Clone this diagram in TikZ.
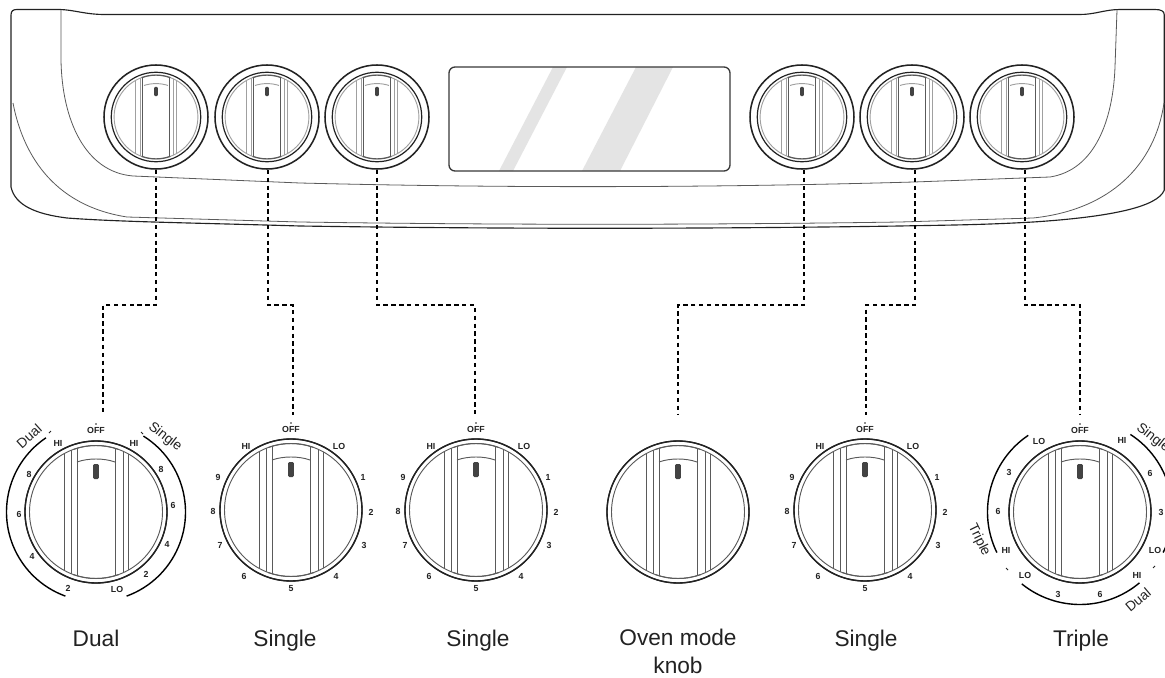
\documentclass[tikz,border=0pt]{standalone}
\usepackage{fontspec}
\setmainfont{Liberation Sans}
\definecolor{ink}{HTML}{222222}
\definecolor{rim}{HTML}{5A5A5A}
\definecolor{pale}{HTML}{A0A0A0}
\definecolor{glass}{HTML}{E4E4E4}
\tikzset{
  panelline/.style={draw=ink,line width=.85pt,line join=round},
  panelthin/.style={draw=rim,line width=.6pt},
  conn/.style={draw=black,line width=.95pt,dash pattern=on 3.3pt off 2.6pt},
  topknob/.style={circle,draw=ink,line width=1.15pt,minimum size=78pt,inner sep=0pt},
  bigknob/.style={circle,draw=ink,line width=1.05pt,minimum size=106.5pt,inner sep=0pt},
  dialmark/.style={font=\bfseries\fontsize{6.6}{7}\selectfont,text=ink,inner sep=0pt},
  arcline/.style={draw=black,line width=1.05pt},
  arcword/.style={font=\fontsize{10.3}{12}\selectfont,text=ink,inner sep=0pt},
  capword/.style={font=\fontsize{17}{21}\selectfont,text=ink,inner sep=0pt,anchor=base},
  bigline/.style={draw=rim,line width=.75pt},
  bigpale/.style={draw=rim,line width=.7pt},
  smalldark/.style={draw=rim,line width=.9pt},
  smallpale/.style={draw=pale,line width=.7pt},
}
% knob body: #1 x, #2 y, #3 scale, #4 style of inner grip lines, #5 style of outer grip lines and ring, #6 inner grip offset
\newcommand{\knobbody}[6]{%
  \begin{scope}[shift={(#1,#2)},scale=#3]
    \draw[ink,line width=.9pt] (0,0) circle[radius=71];
    \draw[#5] (0,0) circle[radius=66.5];
    \begin{scope}
      \clip (0,0) circle[radius=66.5];
      \draw[#4] (-#6,-70) -- (-#6,70);
      \draw[#4] (#6,-70) -- (#6,70);
      \draw[#5] (-25,-70) -- (-25,70);
      \draw[#5] (27,-70) -- (27,70);
      \draw[#5] (-32,-70) -- (-32,70);
      \draw[#5] (32,-70) -- (32,70);
    \end{scope}
    \draw[#5] (-19,-50) .. controls (-8,-54) and (8,-54) .. (19,-50);
    \draw[#4] (-110:66.5) arc[start angle=-110,end angle=-70,radius=66.5];
    \draw[#4] (110:66.5) arc[start angle=110,end angle=70,radius=66.5];
    \fill[ink!85,rounded corners=.8pt] (-2.8,-48) rectangle (2.8,-33);
  \end{scope}}
\newcommand{\mk}[2]{\node[dialmark] at (#1) {#2};}
\begin{document}
\begin{tikzpicture}[x=.75pt,y=-.75pt]
\useasboundingbox (0,0) rectangle (1165,678);
\clip (0,0) rectangle (1165,678);
\fill[white] (0,0) rectangle (1165,678);

% panel
\draw[panelline] (11,187) -- (11,15) .. controls (11,11) and (13,9.5) .. (17,9.5) -- (60,9.5)
  .. controls (75,10) and (85,14.5) .. (105,14.5) -- (1080,14.5)
  .. controls (1095,14.5) and (1105,9.5) .. (1120,9.5) -- (1155,9.5)
  .. controls (1161,9.5) and (1164.3,11) .. (1164.3,15) -- (1164.3,190)
  .. controls (1158,207) and (1110,217) .. (1033,222)
  .. controls (980,225) and (950,225) .. (900,226)
  .. controls (700,229) and (500,229) .. (300,226)
  .. controls (200,223) and (120,222) .. (67,218)
  .. controls (35,214) and (15,205) .. (11,187) -- cycle;
\draw[panelthin] (13,103) .. controls (22,150) and (50,205) .. (127,217)
  -- (300,222) .. controls (500,225) and (700,225) .. (900,222)
  -- (1033,218) .. controls (1110,210) and (1155,165) .. (1164,103);
\draw[panelthin] (61,10) -- (61,60) .. controls (62,120) and (85,172) .. (133,176)
  -- (300,183) .. controls (500,188) and (700,188) .. (914,182)
  -- (1050,177) .. controls (1095,170) and (1113,120) .. (1115,67) -- (1117,10);

% display
\begin{scope}
  \clip[rounded corners=4.5pt] (449,67) rectangle (730,171);
  \fill[glass] (553,67) -- (567,67) -- (513,171) -- (499,171) -- cycle;
  \fill[glass] (636,67) -- (673,67) -- (620,171) -- (582,171) -- cycle;
\end{scope}
\draw[draw=ink!90,line width=1pt,rounded corners=4.5pt] (449,67) rectangle (730,171);

% panel knobs
\node[topknob] (t1) at (156,117) {};
\node[topknob] (t2) at (267,117) {};
\node[topknob] (t3) at (377,117) {};
\node[topknob] (t4) at (802,117) {};
\node[topknob] (t5) at (912,117) {};
\node[topknob] (t6) at (1022,117) {};
\foreach \x in {156,267,377,802,912,1022}
  \knobbody{\x}{117}{.63}{smalldark}{smallpale}{22};

% large knobs
\node[bigknob] (b1) at (96,512) {};
\node[bigknob] (b2) at (291,510) {};
\node[bigknob] (b3) at (476,510) {};
\node[bigknob] (b4) at (678,512) {};
\node[bigknob] (b5) at (865,510) {};
\node[bigknob] (b6) at (1080,512) {};
\knobbody{96}{512}{1}{bigline}{bigpale}{19}
\knobbody{291}{510}{1}{bigline}{bigpale}{19}
\knobbody{476}{510}{1}{bigline}{bigpale}{19}
\knobbody{678}{512}{1}{bigline}{bigpale}{19}
\knobbody{865}{510}{1}{bigline}{bigpale}{19}
\knobbody{1080}{512}{1}{bigline}{bigpale}{19}

% connectors
\coordinate (d1) at (103,415);
\coordinate (d2) at (293,415);
\coordinate (d3) at (475,415);
\coordinate (d4) at (678,414);
\coordinate (d5) at (866,415);
\coordinate (d6) at (1080,415);
\draw[conn] (t1.south) -- (t1.south |- 0,305) -| (d1);
\draw[conn] ([xshift=.75pt]t2.south) -- ([xshift=.75pt]t2.south |- 0,305) -| (d2);
\draw[conn] (t3.south) -- (t3.south |- 0,305) -| (d3);
\draw[conn] ([xshift=1.5pt]t4.south) -- ([xshift=1.5pt]t4.south |- 0,305) -| (d4);
\draw[conn] ([xshift=2.25pt]t5.south) -- ([xshift=2.25pt]t5.south |- 0,305) -| (d5);
\draw[conn] ([xshift=2.25pt]t6.south) -- ([xshift=2.25pt]t6.south |- 0,305) -| (d6);

% numbered dials
\foreach \cx in {291,476,865}{
  \begin{scope}[shift={(\cx,510)}]
    \fill[ink] (0,-87) circle[radius=.9];
    \mk{0,-81}{OFF}\mk{-45,-64}{HI}\mk{48,-64}{LO}
    \mk{-73,-33}{9}\mk{-78,1}{8}\mk{-71,35}{7}\mk{-47,66}{6}
    \mk{0,79}{5}\mk{45,66}{4}\mk{73,35}{3}\mk{80,2}{2}\mk{72,-33}{1}
  \end{scope}}

% dual dial
\begin{scope}[shift={(96,512)}]
  \fill[ink] (0,-88) circle[radius=.9];
  \mk{0,-82}{OFF}\mk{-38,-69}{HI}\mk{38,-69}{HI}
  \mk{-67,-38}{8}\mk{-77,2}{6}\mk{-64,44}{4}\mk{-28,76}{2}
  \mk{21,77}{LO}\mk{50,62}{2}\mk{71,32}{4}\mk{77,-7}{6}\mk{65,-43}{8}
  \draw[arcline] (-124:89.5) arc[start angle=-124,end angle=-250,radius=89.5];
  \draw[arcline] (-58:89.5) arc[start angle=-58,end angle=70,radius=89.5];
  \draw[ink,line width=.7pt] (-47,-79) -- (-45,-81);
  \draw[ink,line width=.7pt] (47,-78) -- (45,-80);
  \node[arcword,rotate=42] at (-67,-76) {Dual};
  \node[arcword,rotate=-38] at (69,-75) {Single};
\end{scope}

% triple dial
\begin{scope}[shift={(1080,512)}]
  \fill[ink] (0,-88) circle[radius=.9];
  \mk{0,-82}{OFF}\mk{42,-72}{HI}\mk{70,-39}{6}\mk{81,0}{3}
  \mk{75,38}{LO}\mk{57,63}{HI}\mk{20,82}{6}\mk{-22,82}{3}
  \mk{-55,63}{LO}\mk{-74,38}{HI}\mk{-82,-1}{6}\mk{-71,-40}{3}\mk{-41,-71}{LO}
  \draw[arcline] (-124:92.5) arc[start angle=-124,end angle=-206,radius=92.5];
  \draw[arcline] (-231:92.5) arc[start angle=-231,end angle=-310,radius=92.5];
  \draw[arcline] (-57:92.5) arc[start angle=-57,end angle=26,radius=92.5];
  \draw[ink,line width=.7pt] (-74,56) -- (-72,58);
  \draw[ink,line width=.7pt] (73,56) -- (75,54);
  \node[arcword,rotate=-64] at (-101,28) {Triple};
  \node[arcword,rotate=-38] at (73,-74) {Single};
  \node[arcword,rotate=40] at (58,88) {Dual};
\end{scope}

% captions
\node[capword] (c1) at (96,646) {Dual};
\node[capword] (c2) at (285,646) {Single};
\node[capword] (c3) at (478,646) {Single};
\node[capword] (c4) at (678,645) {Oven mode};
\node[capword] (c4b) at (678,673) {knob};
\node[capword] (c5) at (866,646) {Single};
\node[capword] (c6) at (1081,646) {Triple};
\end{tikzpicture}
\end{document}
